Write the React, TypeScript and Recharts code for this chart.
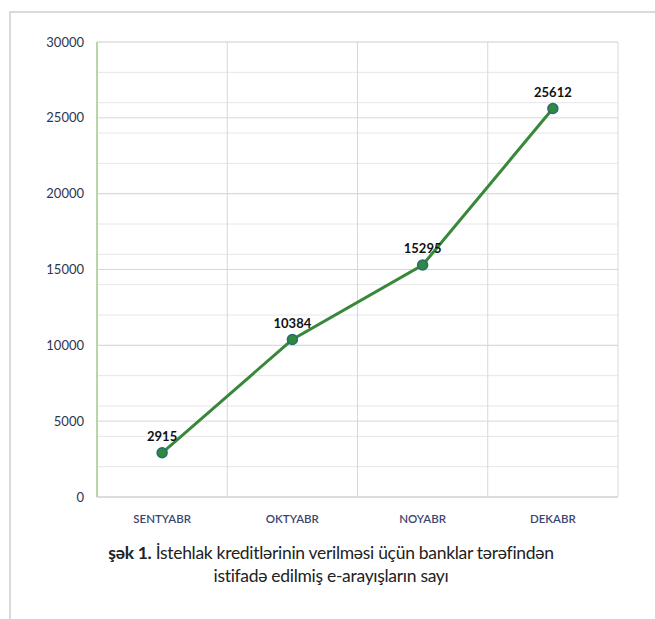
import { CartesianGrid, LabelList, Line, LineChart, XAxis, YAxis } from 'recharts'

const months = ['SENTYABR', 'OKTYABR', 'NOYABR', 'DEKABR']
const requests = [2915, 10384, 15295, 25612]
const majorTicks = [0, 5000, 10000, 15000, 20000, 25000, 30000]
const minorTicks = Array.from({ length: 61 }, (_, i) => i * 500)
const bandEdges = [0, 1, 2, 3, 4]

const data = months.map((m, i) => ({ month: m, value: requests[i], pos: i + 0.5 }))

const tickFont = 'Lato, "Open Sans", sans-serif'

export default function App() {
  return (
    <div style={{ position: 'absolute', left: 0, top: 0, width: 655, height: 619, background: '#fff' }}>
      <div
        style={{
          position: 'absolute',
          left: 9,
          top: 11,
          right: 0,
          bottom: 0,
          borderTop: '2px solid #d9d9d9',
          borderLeft: '2px solid #d9d9d9',
        }}
      />
      <div style={{ position: 'absolute', left: 0, top: 0 }}>
        <LineChart width={655} height={530} data={data} margin={{ top: 42, right: 37, left: 0, bottom: 3 }}>
          <XAxis xAxisId="grid" type="number" dataKey="pos" domain={[0, 4]} ticks={bandEdges} hide />
          <CartesianGrid stroke="#e6e6ea" vertical={false} horizontalValues={minorTicks} />
          <CartesianGrid stroke="#d6d6e0" vertical={false} horizontalValues={majorTicks} />
          <CartesianGrid xAxisId="grid" stroke="#d6d6e0" horizontal={false} />
          <XAxis
            dataKey="month"
            scale="band"
            height={30}
            tickLine={false}
            tickSize={0}
            tickMargin={18}
            axisLine={{ stroke: '#d9d9de', strokeWidth: 1.5 }}
            tick={{ fill: '#3b4670', fontSize: 11.5, fontFamily: tickFont, fontWeight: 600 }}
          />
          <YAxis
            domain={[0, 30000]}
            ticks={majorTicks}
            width={97}
            tickLine={false}
            tickSize={0}
            tickMargin={13}
            axisLine={{ stroke: '#a9d18e', strokeWidth: 1.5 }}
            tick={{ fill: '#2e3550', fontSize: 13, fontFamily: tickFont }}
          />
          <Line
            type="linear"
            dataKey="value"
            stroke="#37883a"
            strokeWidth={3}
            dot={{ r: 5, fill: '#2f8a3c', stroke: '#2a6a78', strokeWidth: 1.5 }}
            activeDot={false}
            isAnimationActive={false}
          >
            <LabelList
              dataKey="value"
              position="top"
              offset={12}
              style={{ fill: '#111', fontSize: 13, fontWeight: 700, fontFamily: tickFont }}
            />
          </Line>
        </LineChart>
      </div>
      <div
        style={{
          position: 'absolute',
          left: 0,
          top: 541,
          width: 662,
          textAlign: 'center',
          fontFamily: 'Lato, "Open Sans", sans-serif',
          fontSize: 17.5,
          letterSpacing: -0.3,
          lineHeight: '23px',
          color: '#222',
        }}
      >
        <b>şək 1.</b> İstehlak kreditlərinin verilməsi üçün banklar tərəfindən
        <br />
        istifadə edilmiş e-arayışların sayı
      </div>
    </div>
  )
}
